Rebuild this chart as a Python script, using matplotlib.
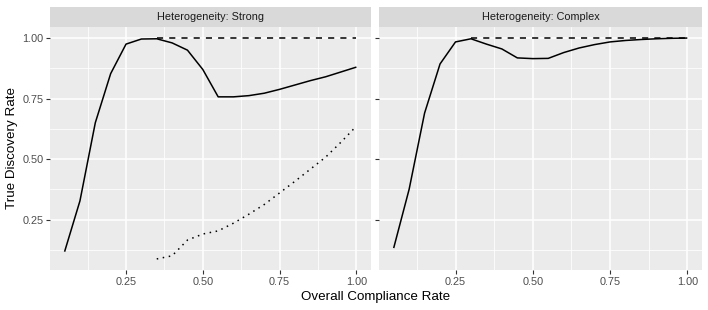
import matplotlib

matplotlib.use("Agg")
import matplotlib.pyplot as plt
import numpy as np

plt.rcParams["font.family"] = ["Liberation Sans", "DejaVu Sans"]

# compliance grid (x) shared by all curves
compliance = [0.05, 0.10, 0.15, 0.20, 0.25, 0.30, 0.35, 0.40, 0.45, 0.50,
              0.55, 0.60, 0.65, 0.70, 0.75, 0.80, 0.85, 0.90, 0.95, 1.00]

# Heterogeneity: Strong
strong_solid = [0.117, 0.327, 0.650, 0.853, 0.975, 0.996, 0.997, 0.980, 0.950, 0.870,
                0.757, 0.757, 0.762, 0.772, 0.788, 0.806, 0.824, 0.840, 0.860, 0.880]
strong_dash_x = [0.35, 0.40, 0.45, 0.50, 0.55, 0.60, 0.65, 0.70, 0.75, 0.80,
                 0.85, 0.90, 0.95, 1.00]
strong_dash = [1.0] * len(strong_dash_x)
strong_dot_x = strong_dash_x
strong_dot = [0.087, 0.100, 0.165, 0.190, 0.203, 0.235, 0.272, 0.312, 0.360, 0.408,
              0.458, 0.508, 0.570, 0.636]

# Heterogeneity: Complex
complex_solid = [0.132, 0.375, 0.690, 0.893, 0.984, 0.997, 0.975, 0.955, 0.918, 0.915,
                 0.916, 0.940, 0.959, 0.973, 0.984, 0.990, 0.994, 0.997, 0.999, 1.000]
complex_dash_x = [0.30, 0.35, 0.40, 0.45, 0.50, 0.55, 0.60, 0.65, 0.70, 0.75,
                  0.80, 0.85, 0.90, 0.95, 1.00]
complex_dash = [1.0] * len(complex_dash_x)

panels = [
    ("Heterogeneity: Strong", strong_solid, (strong_dash_x, strong_dash), (strong_dot_x, strong_dot)),
    ("Heterogeneity: Complex", complex_solid, (complex_dash_x, complex_dash), None),
]

fig = plt.figure(figsize=(7.08, 3.10), dpi=100)
W, H = 708, 310
top, bot = 27, 270
lefts = [(50, 371), (379, 702)]
strip_h = 20

xlim = (0.0025, 1.0475)
ylim = (0.0413, 1.0457)
ticks = [0.25, 0.50, 0.75, 1.00]
minor = [0.125, 0.375, 0.625, 0.875]

for i, ((title, solid, dash, dot), (x0, x1)) in enumerate(zip(panels, lefts)):
    ax = fig.add_axes([x0 / W, 1 - bot / H, (x1 - x0) / W, (bot - top) / H])
    ax.set_facecolor("#EBEBEB")
    ax.set_xlim(*xlim)
    ax.set_ylim(*ylim)
    for v in minor:
        ax.axvline(v, color="white", lw=0.55, zorder=0)
        ax.axhline(v, color="white", lw=0.55, zorder=0)
    for v in ticks:
        ax.axvline(v, color="white", lw=1.1, zorder=0)
        ax.axhline(v, color="white", lw=1.1, zorder=0)
    ax.plot(compliance, solid, color="black", lw=1.1, solid_capstyle="butt")
    ax.plot(dash[0], dash[1], color="black", lw=1.1, linestyle=(0, (4, 4)))
    if dot is not None:
        ax.plot(dot[0], dot[1], color="black", lw=1.1, linestyle=(0, (1, 3)))
    for s in ax.spines.values():
        s.set_visible(False)
    ax.set_xticks(ticks)
    ax.set_xticklabels(["0.25", "0.50", "0.75", "1.00"])
    ax.set_yticks(ticks)
    if i == 0:
        ax.set_yticklabels(["0.25", "0.50", "0.75", "1.00"])
    else:
        ax.set_yticklabels([])
        ax.tick_params(axis="y", length=0)
    ax.tick_params(colors="#333333", labelcolor="#4D4D4D", labelsize=7.8,
                   length=2.8, width=0.8, pad=2)

    sax = fig.add_axes([x0 / W, 1 - top / H, (x1 - x0) / W, strip_h / H])
    sax.set_facecolor("#D9D9D9")
    sax.set_xticks([])
    sax.set_yticks([])
    for s in sax.spines.values():
        s.set_visible(False)
    sax.text(0.5, 0.5, title, ha="center", va="center", fontsize=7.8,
             color="#1A1A1A", transform=sax.transAxes)

fig.text((50 + 702) / 2 / W, 1 - 297 / H, "Overall Compliance Rate",
         ha="center", va="center", fontsize=9.6)
fig.text(12 / W, 1 - 148 / H, "True Discovery Rate", ha="center", va="center",
         rotation=90, fontsize=9.6)

fig.savefig("out.png", dpi=100)
